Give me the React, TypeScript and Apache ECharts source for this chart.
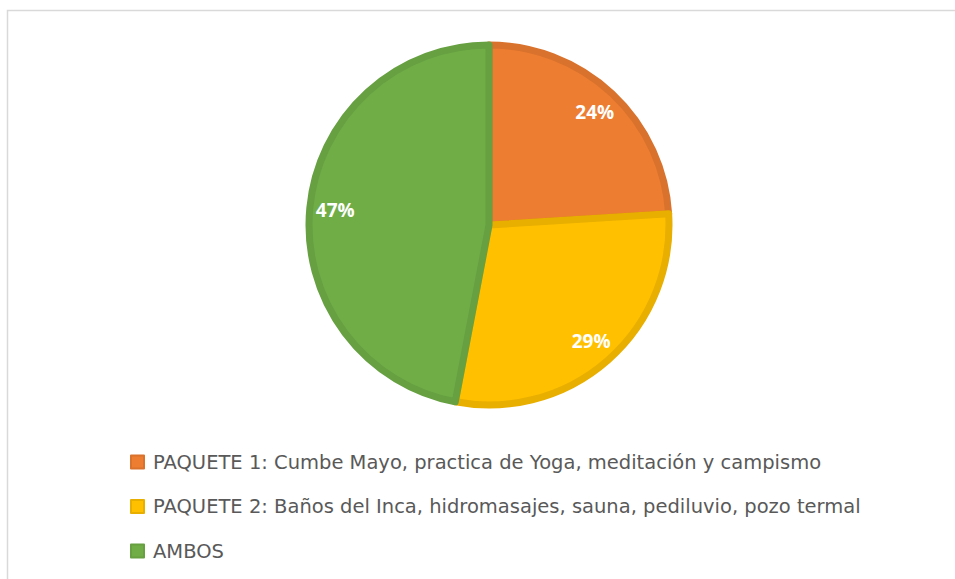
import React, { useEffect, useRef } from "react";
import * as echarts from "echarts";

const categories = [
  "PAQUETE 1: Cumbe Mayo, practica de Yoga, meditación y campismo",
  "PAQUETE 2: Baños del Inca, hidromasajes, sauna, pediluvio, pozo termal",
  "AMBOS",
];
const values = [24, 29, 47];
const fillColors = ["#ED7D31", "#FFC000", "#70AD47"];
const borderColors = ["#D9722C", "#E8AE00", "#66A041"];

export default function App() {
  const ref = useRef<HTMLDivElement>(null);
  useEffect(() => {
    if (!ref.current) return;
    const chart = echarts.init(ref.current, undefined, { renderer: "svg" });
    const data = categories.map((name, i) => ({
      name,
      value: values[i],
      itemStyle: { color: fillColors[i], borderColor: borderColors[i], borderWidth: 7 },
    }));
    const labelData = categories.map((name, i) => ({ name, value: values[i] }));
    chart.setOption({
      animation: false,
      backgroundColor: "#ffffff",
      graphic: [
        {
          type: "rect",
          shape: { x: 7.5, y: 10.5, width: 980, height: 600 },
          style: { fill: "none", stroke: "#D9D9D9", lineWidth: 1.5 },
          silent: true,
        },
      ],
      legend: {
        orient: "vertical",
        left: 130,
        top: 452,
        padding: 0,
        itemWidth: 13,
        itemHeight: 13,
        itemGap: 24.5,
        icon: "rect",
        selectedMode: false,
        data: categories,
        textStyle: {
          color: "#595959",
          fontSize: 19.5,
          fontFamily: "DejaVu Sans",
          lineHeight: 20,
          padding: [0, 0, 0, 4],
        },
      },
      series: [
        {
          type: "pie",
          center: [489, 225],
          radius: 180,
          startAngle: 90,
          clockwise: true,
          silent: true,
          label: { show: false },
          labelLine: { show: false },
          data,
        },
        {
          type: "pie",
          center: [489, 225],
          radius: [120, 183],
          startAngle: 90,
          clockwise: true,
          silent: true,
          legendHoverLink: false,
          itemStyle: { color: "transparent", borderWidth: 0 },
          label: {
            show: true,
            position: "inside",
            formatter: "{d}%",
            color: "#ffffff",
            fontSize: 19,
            fontWeight: "bold",
            fontFamily: "Open Sans",
          },
          labelLine: { show: false },
          data: labelData,
        },
      ],
    });
    return () => chart.dispose();
  }, []);
  return (
    <div
      ref={ref}
      style={{ position: "fixed", left: 0, top: 0, width: 955, height: 579 }}
    />
  );
}
